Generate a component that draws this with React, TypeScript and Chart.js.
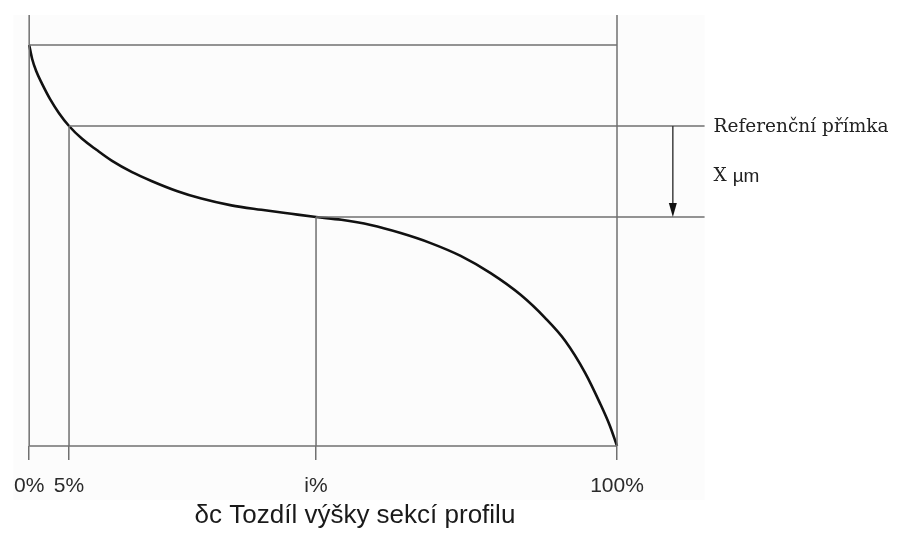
import React, { useEffect, useRef } from "react";
import { Chart, registerables } from "chart.js";

Chart.register(...registerables);

// Curve: cumulative profile (x in % of position, y relative height)
const curveX = [0, 0.51, 1.19, 2.2, 3.56, 5.08, 6.78, 9.0, 11.5, 14.1, 17.5, 20.8, 25.1, 29.3, 34.4, 39.5, 44.6, 48.8, 53.1, 58.1, 63.2, 68.3, 73.4, 78.5, 83.6, 87.8, 91.2, 94.6, 97.1, 98.8, 100];
const curveY = [100, 96.5, 93.5, 90.3, 86.5, 83.0, 79.8, 76.6, 73.8, 71.1, 68.3, 66.1, 63.6, 61.7, 60.0, 58.9, 57.9, 57.1, 56.4, 55.1, 53.1, 50.6, 47.4, 43.1, 37.7, 31.9, 26.2, 18.2, 10.7, 5.0, 0];

const tickValues = [0, 6.78, 48.8, 100];
const tickLabels = ["0%", "5%", "i%", "100%"];

const topLevel = 100;
const refLevel = 79.8;
const iLevel = 57.1;
const frameTop = 107.5;
const lineEnd = 114.9;
const arrowX = 109.5;

const axisTitle = "δc Tozdíl výšky sekcí profilu";
const refLabel = "Referenční přímka";
const gapLabelA = "X";
const gapLabelB = "µm";

const GRAY = "#707070";

function seg(x1: number, y1: number, x2: number, y2: number) {
  return {
    type: "line" as const,
    data: [{ x: x1, y: y1 }, { x: x2, y: y2 }],
    borderColor: GRAY,
    borderWidth: 1.5,
    pointRadius: 0,
    clip: false as any,
  };
}

export default function App() {
  const ref = useRef<HTMLCanvasElement | null>(null);
  useEffect(() => {
    if (!ref.current) return;
    const annot = {
      id: "annot",
      beforeDraw(chart: any) {
        const { ctx, scales } = chart;
        const xs = scales.x, ys = scales.y;
        ctx.save();
        ctx.fillStyle = "#fcfcfc";
        const l = xs.getPixelForValue(-2.7);
        const r = xs.getPixelForValue(lineEnd);
        const t = ys.getPixelForValue(frameTop);
        ctx.fillRect(l, t, r - l, 500 - t);
        ctx.restore();
      },
      afterDraw(chart: any) {
        const { ctx, scales } = chart;
        const xs = scales.x, ys = scales.y;
        ctx.save();
        // arrow
        const ax = xs.getPixelForValue(arrowX);
        const ay1 = ys.getPixelForValue(refLevel);
        const ay2 = ys.getPixelForValue(iLevel);
        ctx.strokeStyle = "#333";
        ctx.lineWidth = 1.4;
        ctx.beginPath();
        ctx.moveTo(ax, ay1);
        ctx.lineTo(ax, ay2 - 10);
        ctx.stroke();
        ctx.fillStyle = "#111";
        ctx.beginPath();
        ctx.moveTo(ax - 4, ay2 - 14);
        ctx.lineTo(ax + 4, ay2 - 14);
        ctx.lineTo(ax, ay2);
        ctx.closePath();
        ctx.fill();
        // right texts
        const tx = xs.getPixelForValue(lineEnd) + 9;
        ctx.fillStyle = "#222";
        ctx.textBaseline = "middle";
        ctx.textAlign = "left";
        ctx.font = "18.5px 'DejaVu Serif'";
        ctx.fillText(refLabel, tx, ys.getPixelForValue(refLevel) + 1);
        const my = (ys.getPixelForValue(refLevel) + ys.getPixelForValue(iLevel)) / 2 + 5;
        ctx.fillText(gapLabelA, tx, my);
        const w = ctx.measureText(gapLabelA + " ").width;
        ctx.font = "19px 'Liberation Sans'";
        ctx.fillText(gapLabelB, tx + w, my);
        // axis title
        ctx.font = "26px 'Liberation Sans'";
        ctx.fillStyle = "#1a1a1a";
        ctx.textBaseline = "alphabetic";
        ctx.textAlign = "center";
        const cx = (xs.getPixelForValue(-2.7) + xs.getPixelForValue(lineEnd)) / 2 - 4;
        ctx.fillText(axisTitle, cx, 523);
        ctx.restore();
      },
    };
    const chart = new Chart(ref.current, {
      type: "scatter",
      data: {
        datasets: [
          seg(0, topLevel, 100, topLevel),
          seg(0, frameTop, 0, 0),
          seg(100, frameTop, 100, 0),
          seg(tickValues[1], refLevel, tickValues[1], 0),
          seg(tickValues[2], iLevel, tickValues[2], 0),
          seg(tickValues[1], refLevel, lineEnd, refLevel),
          seg(tickValues[2], iLevel, lineEnd, iLevel),
          seg(0, 0, 100, 0),
          {
            type: "line",
            data: curveX.map((x, i) => ({ x, y: curveY[i] })),
            borderColor: "#111",
            borderWidth: 2.6,
            pointRadius: 0,
            cubicInterpolationMode: "monotone",
            clip: false as any,
          } as any,
        ],
      },
      options: {
        animation: false,
        responsive: false,
        maintainAspectRatio: false,
        layout: { padding: { left: 27, right: 283, top: 45, bottom: 0 } },
        plugins: { legend: { display: false }, tooltip: { enabled: false } },
        scales: {
          x: {
            type: "linear",
            min: 0,
            max: 100,
            afterBuildTicks: (axis: any) => {
              axis.ticks = tickValues.map((v) => ({ value: v }));
            },
            afterFit: (axis: any) => {
              axis.height = 89;
            },
            ticks: {
              autoSkip: false,
              maxRotation: 0,
              padding: 14,
              color: "#2a2a2a",
              font: { family: "'Liberation Sans', Arial", size: 21 },
              callback: (v: any) => {
                const i = tickValues.indexOf(Number(v));
                return i >= 0 ? tickLabels[i] : "";
              },
            },
            grid: { drawOnChartArea: false, drawTicks: true, tickLength: 14, color: GRAY, lineWidth: 1.5 },
            border: { display: false },
          },
          y: { type: "linear", min: 0, max: 100, display: false },
        },
      },
      plugins: [annot],
    } as any);
    return () => chart.destroy();
  }, []);
  return (
    <div style={{ position: "fixed", left: 0, top: 0, width: 900, height: 535, background: "#fff" }}>
      <canvas ref={ref} width={900} height={535} style={{ width: 900, height: 535 }} />
    </div>
  );
}
